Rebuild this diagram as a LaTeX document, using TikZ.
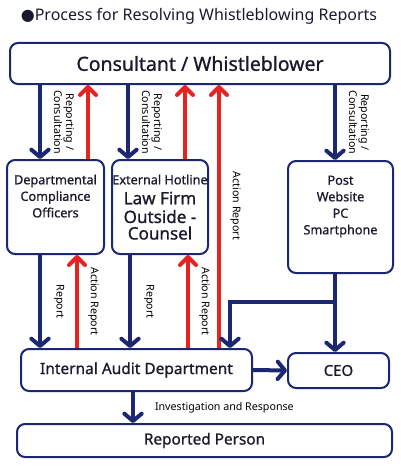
\documentclass[tikz,border=0pt]{standalone}
\usepackage{fontspec}
\setmainfont{Noto Sans}
\newfontfamily\boxfont[FakeBold=0.9]{Noto Sans}
\newfontfamily\symfont{DejaVu Sans}
\usetikzlibrary{arrows.meta,positioning,calc}
\definecolor{navy}{HTML}{1B2770}
\definecolor{redline}{HTML}{E52421}
\definecolor{ink}{HTML}{1A1A2E}
\newcommand{\tbox}[4]{\parbox[c][#1][t]{#2}{\centering\vspace*{#3}#4}}
\begin{document}
\begin{tikzpicture}[x=0.75pt,y=-0.75pt,font=\boxfont\fontsize{9.5}{12.4}\selectfont,text=ink]
\tikzset{box/.style={draw=navy,line width=1.5pt,rounded corners=6pt,fill=white,inner sep=0pt,align=center}, nar/.style={draw=navy,line width=3pt,-{Straight Barb[length=5.5pt,width=13pt,round]}}, rar/.style={draw=redline,line width=3pt,-{Straight Barb[length=6pt,width=12pt,round]}}, lbl/.style={font=\rmfamily\fontsize{8}{9}\selectfont,text=black,align=center,inner sep=0pt}}
\useasboundingbox (0,0) rectangle (400,467);
\node[font=\rmfamily] (title) at (199,16) {\fontsize{12}{15}\selectfont{\symfont ●}Process for Resolving Whistleblowing Reports};
\node[box,minimum width=285pt,minimum height=30.75pt,font=\boxfont\fontsize{14.6}{17}\selectfont] (cons) at (200,63.5) {Consultant / Whistleblower};
\node[box] (dept) at (55.5,207) {\tbox{70.5pt}{72.75pt}{11pt}{Departmental\\Compliance\\Officers}};
\node[box] (ext) at (160,207) {\tbox{70.5pt}{72pt}{11pt}{\makebox[0pt]{External Hotline}\\[1pt]{\fontsize{12.8}{14}\selectfont Law Firm\\Outside -\\Counsel}}};
\node[box] (post) at (340.5,217) {\tbox{84pt}{78.75pt}{11pt}{Post\\Website\\PC\\Smartphone}};
\node[box,minimum width=173.25pt,minimum height=31.5pt,font=\boxfont\fontsize{11.6}{13}\selectfont] (audit) at (136.5,370) {Internal Audit Department};
\node[box,minimum width=75.75pt,minimum height=26.25pt,font=\boxfont\fontsize{11.2}{13}\selectfont] (ceo) at (338.5,370.5) {CEO};
\node[box,minimum width=281.25pt,minimum height=24.75pt,font=\boxfont\fontsize{11.5}{14}\selectfont] (person) at (204.5,440.5) {Reported Person};
% reporting lines
\draw[nar] (cons.south -| 40,0) -- node[lbl,midway,anchor=south,rotate=-90,yshift=9pt]{Reporting /\\Consultation} (dept.north -| 40,0);
\draw[rar] (dept.north -| 88,0) -- (cons.south -| 88,0);
\draw[nar] (cons.south -| 128,0) -- node[lbl,midway,anchor=south,rotate=-90,yshift=9pt]{Reporting /\\Consultation} (ext.north -| 128,0);
\draw[rar] (ext.north -| 185,0) -- (cons.south -| 185,0);
\draw[nar] (cons.south -| 335,0) -- node[lbl,midway,anchor=south,rotate=-90,yshift=9pt]{Reporting /\\Consultation} (post.north -| 335,0);
\draw[rar] (audit.north -| 219,0) -- node[lbl,pos=0.54,anchor=south,rotate=-90,yshift=7pt]{Action Report} (cons.south -| 219,0);
% reports to audit
\draw[nar] (dept.south -| 40,0) -- node[lbl,midway,anchor=south,rotate=-90,yshift=9pt]{Report} (audit.north -| 40,0);
\draw[rar] (audit.north -| 77,0) -- node[lbl,midway,anchor=south,rotate=-90,yshift=7pt]{Action Report} (dept.south -| 77,0);
\draw[nar] (ext.south -| 130,0) -- node[lbl,midway,anchor=south,rotate=-90,yshift=9pt]{Report} (audit.north -| 130,0);
\draw[rar] (audit.north -| 188,0) -- node[lbl,midway,anchor=south,rotate=-90,yshift=7pt]{Action Report} (ext.south -| 188,0);
\coordinate (split) at (335,302);
\draw[nar] (post.south -| 335,0) -- (ceo.north -| 335,0);
\draw[nar] (split) -| (audit.north -| 230,0);
\draw[nar] (audit.east) -- (ceo.west);
\draw[nar] (audit.south -| 133,0) -- node[lbl,midway,right,xshift=15pt]{Investigation and Response} (person.north -| 133,0);
\end{tikzpicture}
\end{document}
